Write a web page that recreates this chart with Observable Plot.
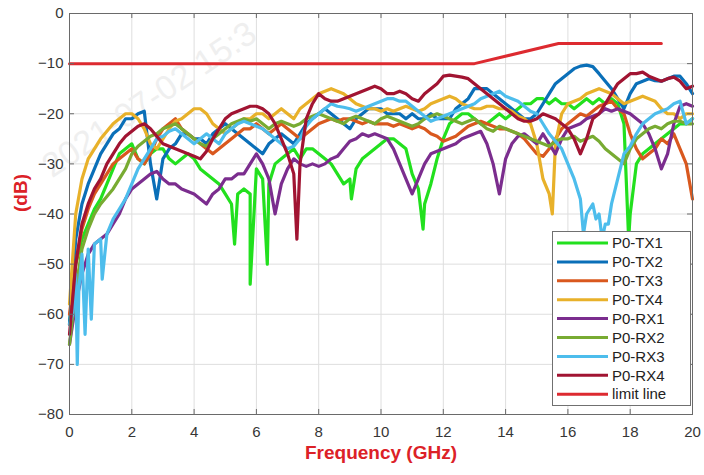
<!DOCTYPE html>
<html><head><meta charset="utf-8">
<script src="https://cdn.jsdelivr.net/npm/d3@7"></script>
<script src="https://cdn.jsdelivr.net/npm/@observablehq/plot@0.6"></script>
<style>
body{margin:0;background:#fff}
#chart{position:relative;width:704px;height:475px}
</style>
</head><body><div id="chart"></div>
<script>
const seriesNames = ["P0-TX1","P0-TX2","P0-TX3","P0-TX4","P0-RX1","P0-RX2","P0-RX3","P0-RX4"];
const seriesColors = ["#22e01e","#0a6fb8","#d9581e","#e8b12a","#7b2d8e","#78ab32","#4dbdec","#a11432"];
const limitName = "limit line";
const limitColor = "#dd2a30";
const freqGrid = d3.range(0, 101).map(i => Math.round(i * 2) / 10);

const p0tx1 = [-62,-50,-45,-42,-39,-37,-34,-31,-28,-27,
 -26,-29,-30,-28,-27,-27,-29,-30,-29,-28,
 -29,-31,-32,-33,-34,-36,-38,-36,-35,-36,
 -31,-33,-34,-30,-29,-28,-27,-29,-27,-27,
 -28,-29,-30,-32,-34,-33,-31,-29,-28,-27,
 -26,-25,-25,-26,-27,-32,-35,-38,-34,-29,
 -25,-22,-21,-20,-20,-21,-22,-22,-21,-20,
 -21,-20,-19,-18,-18,-17,-17,-18,-17,-18,
 -18,-19,-18,-17,-18,-17,-18,-17,-18,-22,
 -40,-30,-28,-27,-26,-25,-24,-23,-22,-22,-21];
const p0tx1Spikes = [[5.3,-46],[5.8,-54],[6.35,-50],[9.05,-37],[11.35,-43],[17.95,-45]];

const p0tx2 = [-62,-45,-38,-34,-31,-28,-26,-24,-23,-21,
 -21,-20,-19.5,-30,-37,-29,-27,-26,-24,-24,
 -25,-25,-26,-24,-23,-22,-23,-24,-25,-26,
 -27,-28,-26,-25,-24,-25,-26,-24,-22,-21,
 -20,-19,-20,-21,-22,-23,-21,-20,-19,-19,
 -19,-20,-20,-20,-21,-20,-21,-21,-20,-21,
 -21,-21,-19,-18,-17,-15,-15,-15,-16,-17,
 -18,-19,-20,-21,-21,-20,-18,-16,-14,-13,
 -12,-11,-10.5,-10.3,-10.6,-12,-13.5,-15,-17,-19,
 -16,-14,-13.5,-13,-13.4,-13.5,-13,-12.5,-12.5,-14,-16];
const p0tx2Spikes = [];

const p0tx3 = [-60,-50,-43,-39,-36,-34,-32,-30,-29,-28,
 -27,-29,-30,-28,-25,-23,-22,-21,-23,-24,
 -25,-26,-27,-28,-27,-26,-25,-24,-23,-23,
 -22,-23,-24,-23,-22,-23,-24,-25,-24,-23,
 -22,-21.5,-21,-21.5,-21,-21,-21.5,-22,-21.5,-22,
 -22,-22,-22.5,-22,-22.5,-23,-22.5,-23,-24,-24.5,
 -25.5,-25,-24.5,-23.5,-22.5,-22,-21.5,-22,-22.5,-23,
 -23,-23.5,-24,-25,-26.5,-28,-28.5,-27,-25,-23,
 -22,-21,-20,-20.5,-19.5,-18.5,-18,-17.5,-19,-20,
 -24,-27,-29,-28,-27,-25,-26,-24,-27,-30,-37];
const p0tx3Spikes = [];

const p0tx4 = [-58,-40,-33,-29,-27,-25,-23.5,-22,-21,-20,
 -20,-21,-23,-26,-27,-25,-23,-21.5,-21,-20,
 -19,-19,-20,-22,-23,-24,-23,-22,-21,-21,
 -20,-20,-21,-20,-19,-20,-21,-19,-18,-17,
 -16,-15.5,-15,-15.5,-16,-17,-18,-18.5,-19,-19,
 -19.5,-19,-19.5,-19,-18.5,-19,-19.5,-19,-18,-17.5,
 -17,-16.5,-17,-18,-18.5,-19,-19,-18.5,-18.5,-19,
 -19,-19.5,-20.5,-21,-22,-26,-33,-36,-26,-20,
 -18,-17.5,-17,-16,-15.5,-15,-15.5,-16,-17,-18,
 -17.5,-17,-16.5,-17,-17.5,-19,-20,-20,-21,-20,-20];
const p0tx4Spikes = [[15.5,-40]];

const p0rx1 = [-66,-58,-52,-48,-46,-45,-44,-42,-40,-37,
 -35,-34,-33,-32,-31.5,-33,-34,-34,-35,-35.5,
 -36,-37,-38,-36,-35,-33,-33,-32,-32,-30,
 -28,-30,-33,-40,-34,-31,-29,-30,-30.5,-30,
 -30.5,-30,-29,-28.5,-27,-25.5,-25,-24,-24.5,-24,
 -24.5,-25,-27,-30,-33,-36,-33,-30,-28,-27.5,
 -27,-26.5,-26,-25,-24.5,-24,-23.5,-26,-30,-36,
 -29,-26,-24.5,-24,-25,-26,-24,-26,-28,-25,
 -23,-22.5,-22,-21,-20.5,-20,-19,-19.5,-19,-19.5,
 -20,-21,-22,-24,-27,-31,-28,-22,-18.5,-18,-18.5];
const p0rx1Spikes = [];

const p0rx2 = [-66,-55,-47,-43,-40,-38,-36.5,-35,-33,-31,
 -28,-26.5,-25.5,-24.5,-24,-23,-22.5,-22,-23,-24,
 -25,-26,-26.5,-25,-24,-23,-22,-21.5,-21,-21.5,
 -21,-22,-23,-22,-21.5,-22,-22.5,-22,-21,-20.5,
 -20,-20.5,-21,-21.5,-22,-21,-20.5,-21,-21.5,-22,
 -21,-20.5,-21,-21.5,-22,-22.5,-22,-21,-20.5,-20,
 -20.5,-21,-21.5,-22,-21.5,-21,-22,-23,-23.5,-22.5,
 -23,-23.5,-24,-24.5,-25,-25.5,-26,-26.5,-25.5,-25,
 -25,-24.5,-25.5,-25,-24.5,-25.5,-27,-28,-29,-30,
 -27,-25,-24,-23,-22.5,-23,-22,-21.5,-21.5,-22,-22];
const p0rx2Spikes = [];

const p0rx3 = [-62,-52,-48,-47,-46,-45,-44,-41,-39,-37,
 -34,-31,-29,-27,-25,-24.5,-23.5,-23,-24,-25,
 -26,-25,-24,-25,-26,-24,-23,-22,-21.5,-22,
 -22.5,-23,-24,-25,-26,-27,-26.5,-25,-22.5,-21,
 -20,-19,-18,-18.5,-18.7,-19,-19.5,-19,-18.5,-18,
 -17.5,-17,-17,-17.5,-17.5,-18.5,-19.5,-20.5,-21.5,-21,
 -20.5,-20,-19.5,-19,-18.5,-18,-17,-16.5,-16,-15.5,
 -16.5,-17,-17.5,-18.5,-19.5,-20,-22,-24,-25.5,-27,
 -30,-33,-37,-40,-38,-40,-42,-38,-33,-28,
 -26.5,-24,-22,-21,-20,-19.5,-19,-18,-17.5,-22,-21];
const p0rx3Spikes = [[0.1,-60],[0.25,-70],[0.3,-55],[0.5,-64],[0.7,-61],[1.05,-53],[16.5,-44],[16.9,-41],[17.1,-45],[17.3,-42]];

const p0rx4 = [-64,-50,-42,-38,-35,-33,-30,-28,-26,-24.5,
 -23.5,-22.5,-22,-23,-24.5,-26,-26.5,-27,-27.5,-28,
 -28.5,-29,-27.5,-25,-23,-21,-20,-19.5,-19,-18.5,
 -18.5,-19,-20,-22,-25,-28,-32,-30,-21,-18,
 -16,-17,-17.5,-17.5,-17,-16.5,-16,-15.5,-15,-14.5,
 -15,-16,-16,-15.5,-16,-17,-17.5,-16,-15,-14,
 -12.5,-12.3,-12.5,-12.7,-13,-14,-15,-16,-17,-18,
 -19,-20,-21,-21.5,-21.5,-21,-20,-20.5,-21,-22,
 -23,-25,-28,-25,-21,-20,-18,-16,-14,-13,
 -12,-12,-11.7,-12.5,-13,-13.5,-13,-12.7,-13.5,-15,-14.5];
const p0rx4Spikes = [[7.3,-45]];

const limitFreq = [0, 13, 15.7, 19];
const limitDb = [-10, -10, -6, -6];

const xTicks = [0,2,4,6,8,10,12,14,16,18,20];
const yTicks = [0,-10,-20,-30,-40,-50,-60,-70,-80];
const xLabel = "Frequency (GHz)";
const yLabel = "(dB)";
const watermark = "2021-07-02 15:3";

// ---- build tables ----
const seriesValues = [p0tx1,p0tx2,p0tx3,p0tx4,p0rx1,p0rx2,p0rx3,p0rx4];
const seriesSpikes = [p0tx1Spikes,p0tx2Spikes,p0tx3Spikes,p0tx4Spikes,p0rx1Spikes,p0rx2Spikes,p0rx3Spikes,p0rx4Spikes];
const tables = seriesNames.map((name, k) => {
  const rows = freqGrid.map((f, i) => ({f, v: seriesValues[k][i]}))
    .concat(seriesSpikes[k].map(([f, v]) => ({f, v})));
  rows.sort((a, b) => a.f - b.f);
  return rows;
});
const limitRows = limitFreq.map((f, i) => ({f, v: limitDb[i]}));

const font = "'Liberation Sans', Arial, Helvetica, sans-serif";
const red = "#dc2127";
const axisGray = "#6a6a6a";

const plot = Plot.plot({
  width: 704, height: 475,
  marginLeft: 69, marginRight: 12, marginTop: 13, marginBottom: 61,
  style: {fontFamily: font, fontSize: "15px", color: "#363636", background: "transparent", overflow: "visible"},
  x: {domain: [0, 20], ticks: xTicks, label: null},
  y: {domain: [-80, 0], ticks: yTicks, label: null},
  marks: [
    Plot.gridX(xTicks, {stroke: "#dedede", strokeOpacity: 1}),
    Plot.gridY(yTicks, {stroke: "#dedede", strokeOpacity: 1}),
    Plot.text([watermark], {frameAnchor: "top-left", dx: -31, dy: 145, rotate: -34, textAnchor: "start", fontSize: 34, fill: "#efefef"}),
    ...tables.map((rows, k) => Plot.line(rows, {x: "f", y: "v", stroke: seriesColors[k], strokeWidth: 3.2, strokeLinejoin: "round"})),
    Plot.line(limitRows, {x: "f", y: "v", stroke: limitColor, strokeWidth: 3}),
    Plot.frame({stroke: axisGray}),
    Plot.ruleX(xTicks, {y1: -80, y2: -79, stroke: axisGray}),
    Plot.ruleX(xTicks, {y1: 0, y2: -1, stroke: axisGray}),
    Plot.ruleY(yTicks, {x1: 0, x2: 0.16, stroke: axisGray}),
    Plot.ruleY(yTicks, {x1: 20, x2: 19.84, stroke: axisGray}),
    Plot.axisX(xTicks, {tickSize: 0, tickPadding: 12, fontSize: 15}),
    Plot.axisY(yTicks, {tickSize: 0, tickPadding: 6, fontSize: 15}),
    Plot.text([xLabel], {frameAnchor: "bottom", dy: 44, fontSize: 19, fontWeight: "bold", fill: red}),
    Plot.text([yLabel], {frameAnchor: "left", dx: -49, dy: -2, rotate: -90, fontSize: 19, fontWeight: "bold", fill: red})
  ]
});

// ---- legend (inside, lower right) ----
const svg = d3.select(plot);
const lg = svg.append("g").attr("font-family", font).attr("font-size", 15).attr("text-anchor", "start");
lg.append("rect").attr("x", 552.5).attr("y", 231.5).attr("width", 138).attr("height", 174)
  .attr("fill", "#fff").attr("stroke", "#707070");
const legendNames = seriesNames.concat([limitName]);
const legendColors = seriesColors.concat([limitColor]);
legendNames.forEach((n, i) => {
  const y = 243 + i * 18.9;
  lg.append("line").attr("x1", 557).attr("x2", 608).attr("y1", y).attr("y2", y)
    .attr("stroke", legendColors[i]).attr("stroke-width", 3);
  lg.append("text").attr("x", 612).attr("y", y).attr("dy", "0.35em").attr("fill", "#222").text(n);
});

document.getElementById("chart").appendChild(plot);
</script>
</body></html>
